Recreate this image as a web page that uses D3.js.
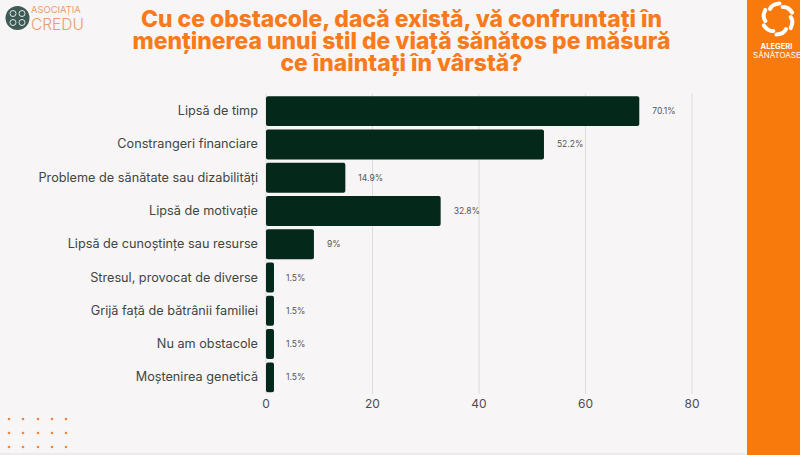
<!DOCTYPE html>
<html><head><meta charset="utf-8">
<script src="https://cdnjs.cloudflare.com/ajax/libs/d3/7.8.5/d3.min.js"></script>
<style>html,body{margin:0;padding:0;background:#f7f5f6;overflow:hidden}svg{display:block}text{font-family:Inter,"Noto Sans",sans-serif}</style>
</head><body><svg id="c" width="800" height="455"></svg>
<script>
const categories=["Lipsă de timp","Constrangeri financiare","Probleme de sănătate sau dizabilități","Lipsă de motivație","Lipsă de cunoștințe sau resurse","Stresul, provocat de diverse","Grijă față de bătrânii familiei","Nu am obstacole","Moștenirea genetică"];
const values=[70.1,52.2,14.9,32.8,9,1.5,1.5,1.5,1.5];
const labels=["70.1%","52.2%","14.9%","32.8%","9%","1.5%","1.5%","1.5%","1.5%"];
const ticks=[0,20,40,60,80];
const titleLines=["Cu ce obstacole, dacă există, vă confruntați în","menținerea unui stil de viață sănătos pe măsură","ce înaintați în vârstă?"];
const svg=d3.select("#c");
svg.append("rect").attr("width",800).attr("height",455).attr("fill","#f7f5f6");
svg.append("rect").attr("y",453).attr("width",800).attr("height",2).attr("fill","#ececec");
svg.append("rect").attr("x",747).attr("width",53).attr("height",455).attr("fill","#f97a0c");
const x=d3.scaleLinear().domain([0,80]).range([266,692]);
const y=d3.scaleBand().domain(categories).range([94.5,394]).paddingInner(0.1).paddingOuter(0.05);
svg.append("g").selectAll("line").data(ticks).join("line")
 .attr("x1",d=>x(d)).attr("x2",d=>x(d)).attr("y1",94).attr("y2",394)
 .attr("stroke","#dcdcdc").attr("stroke-width",1);
svg.append("g").selectAll("rect").data(values).join("rect")
 .attr("x",x(0)).attr("y",(d,i)=>y(categories[i]))
 .attr("width",d=>x(d)-x(0)).attr("height",y.bandwidth())
 .attr("rx",2).attr("fill","#04291a");
svg.append("g").selectAll("text").data(values).join("text")
 .attr("x",d=>x(d)+(d<5?12:13)).attr("y",(d,i)=>y(categories[i])+y.bandwidth()/2+3)
 .attr("font-size",8.5).attr("fill","#555").text((d,i)=>labels[i]);
svg.append("g").selectAll("text").data(categories).join("text")
 .attr("x",258).attr("y",d=>y(d)+y.bandwidth()/2+4)
 .attr("text-anchor","end").attr("font-size",12.7).attr("fill","#3f4642").text(d=>d);
svg.append("g").selectAll("text").data(ticks).join("text")
 .attr("x",d=>x(d)).attr("y",408).attr("text-anchor","middle")
 .attr("font-size",12).attr("fill","#4a4f4c").text(d=>d);
svg.append("g").selectAll("text").data(titleLines).join("text")
 .attr("x",401.5).attr("y",(d,i)=>26.5+i*22).attr("text-anchor","middle")
 .attr("font-size",22.9).attr("font-weight",800).attr("fill","#f97a1a").text(d=>d);
const dotX=[9,23,38,52,66],dotY=[419,433,447];
dotY.forEach(b=>dotX.forEach(a=>svg.append("circle").attr("cx",a).attr("cy",b).attr("r",1.3).attr("fill","#f0883c")));
const lg=svg.append("g").attr("transform","translate(17.5,18)");
lg.append("circle").attr("r",12).attr("fill","#3e5a54");
[[-4.5,-4.5],[4.5,-4.5],[-4.5,4.5],[4.5,4.5]].forEach(p=>lg.append("circle").attr("cx",p[0]).attr("cy",p[1]).attr("r",3).attr("fill","none").attr("stroke","#dfe5e3").attr("stroke-width",1));
svg.append("text").attr("x",31).attr("y",13).attr("font-size",9.4).attr("fill","#ee9c6a").text("ASOCIAȚIA");
svg.append("text").attr("x",31).attr("y",30).attr("font-size",15.5).attr("font-weight",300).attr("fill","#ee9c6a").text("CREDU");
const sun=svg.append("g").attr("transform","translate(778,19)");
d3.range(6).forEach(i=>sun.append("path").attr("d","M-8,-10 Q-6,-15 1.5,-15.5").attr("fill","none").attr("stroke","#fff").attr("stroke-width",4).attr("stroke-linecap","round").attr("transform",`rotate(${i*60})`));
svg.append("text").attr("x",776.5).attr("y",49).attr("text-anchor","middle").attr("font-size",7.6).attr("font-weight",700).attr("fill","#fff").text("ALEGERI");
svg.append("text").attr("x",753).attr("y",58).attr("font-size",8).attr("fill","#fff").text("SĂNĂTOASE");
</script></body></html>
